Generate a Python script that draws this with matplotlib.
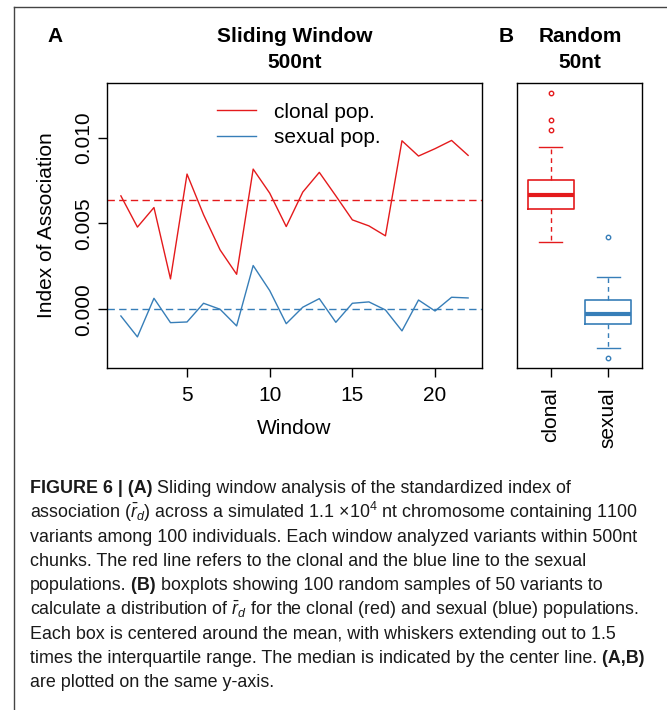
import matplotlib
matplotlib.use("Agg")
import matplotlib.pyplot as plt
from matplotlib.lines import Line2D

# ---------------- data ----------------
windows = list(range(1, 23))
clonal = [0.00661, 0.00479, 0.00593, 0.00177, 0.00788, 0.00551, 0.00346, 0.00204,
          0.00817, 0.00677, 0.00482, 0.00683, 0.00798, 0.00661, 0.00521, 0.00486,
          0.00428, 0.00982, 0.00893, 0.00936, 0.00984, 0.00897]
sexual = [-0.00039, -0.00161, 0.00064, -0.00078, -0.00074, 0.00035, 0.00000, -0.00097,
          0.00255, 0.00109, -0.00084, 0.00012, 0.00062, -0.00076, 0.00035, 0.00043,
          -0.00004, -0.00126, 0.00054, -0.00010, 0.00070, 0.00066]
clonal_ref = 0.00638
sexual_ref = 0.0

box_groups = ["clonal", "sexual"]
box_q1 = [0.00584, -0.00084]
box_med = [0.00668, -0.00027]
box_q3 = [0.00755, 0.00052]
box_whislo = [0.00392, -0.00227]
box_whishi = [0.00948, 0.00188]
box_fliers = [[0.01259, 0.01101, 0.01047], [0.00420, -0.00284]]

xticks_A = [5, 10, 15, 20]
yticks_A = [0.000, 0.005, 0.010]
ytick_labels_A = ["0.000", "0.005", "0.010"]
legend_labels = ["clonal pop.", "sexual pop."]

RED = "#E41A1C"
BLUE = "#377EB8"

# ---------------- style ----------------
plt.rcParams["font.family"] = ["Liberation Sans", "DejaVu Sans"]
plt.rcParams["mathtext.fontset"] = "custom"
plt.rcParams["mathtext.rm"] = "Liberation Sans"
plt.rcParams["mathtext.it"] = "Liberation Sans:italic"
plt.rcParams["mathtext.bf"] = "Liberation Sans:bold"

W, H = 667, 710
fig = plt.figure(figsize=(W / 100, H / 100), dpi=100)
fig.patch.set_facecolor("white")


def fx(p):
    return p / W


def fy(p):
    return 1 - p / H


AX_TOP, AX_BOT = 83.3, 368.3
YLIM = (-0.00344, 0.01317)
FS = 15

# ---------------- panel A ----------------
axA = fig.add_axes([fx(107), fy(AX_BOT), (482 - 107) / W, (AX_BOT - AX_TOP) / H])
lc, = axA.plot(windows, clonal, color=RED, lw=1.0, label=legend_labels[0])
ls, = axA.plot(windows, sexual, color=BLUE, lw=1.0, label=legend_labels[1])
axA.axhline(clonal_ref, color=RED, lw=1.0, linestyle=(0, (5.3, 3.1)))
axA.axhline(sexual_ref, color=BLUE, lw=1.0, linestyle=(0, (5.3, 3.1)))
axA.set_xlim(0.16, 22.84)
axA.set_ylim(*YLIM)
axA.set_xticks(xticks_A)
axA.set_yticks(yticks_A)
axA.set_yticklabels(ytick_labels_A, rotation=90, va="center")
axA.tick_params(axis="both", direction="out", length=6.5, width=1.0,
                labelsize=FS, color="black")
axA.tick_params(axis="x", pad=6)
axA.tick_params(axis="y", pad=3.8)
for sp in axA.spines.values():
    sp.set_linewidth(1.0)
axA.legend(handles=[lc, ls], labels=legend_labels, loc="upper left",
           bbox_to_anchor=(fx(216.7), fy(102.5)), bbox_transform=fig.transFigure,
           frameon=False, borderpad=0, borderaxespad=0, handlelength=1.87,
           handletextpad=0.9, labelspacing=0.33, fontsize=FS)

fig.text(fx(46.7), fy(225), "Index of Association", rotation=90,
         ha="center", va="center", fontsize=FS)
fig.text(fx(294.5), fy(428.5), "Window", ha="center", va="center", fontsize=FS)

# ---------------- panel B ----------------
axB = fig.add_axes([fx(517.3), fy(AX_BOT), (641.7 - 517.3) / W, (AX_BOT - AX_TOP) / H])
stats = []
for i, g in enumerate(box_groups):
    stats.append(dict(label=g, med=box_med[i], q1=box_q1[i], q3=box_q3[i],
                      whislo=box_whislo[i], whishi=box_whishi[i],
                      fliers=box_fliers[i]))
art = axB.bxp(stats, positions=[1, 2], widths=0.8, capwidths=0.4,
              showfliers=True, manage_ticks=False)
cols = [RED, BLUE]
for i, c in enumerate(cols):
    art["boxes"][i].set_color(c)
    art["boxes"][i].set_linewidth(1.2)
    art["medians"][i].set_color(c)
    art["medians"][i].set_linewidth(3.0)
    art["medians"][i].set_solid_capstyle("butt")
    for w in art["whiskers"][2 * i:2 * i + 2]:
        w.set_color(c)
        w.set_linewidth(1.0)
        w.set_linestyle((0, (3.4, 2.9)))
    for cp in art["caps"][2 * i:2 * i + 2]:
        cp.set_color(c)
        cp.set_linewidth(1.0)
    f = art["fliers"][i]
    f.set_marker("o")
    f.set_markersize(3.2)
    f.set_markerfacecolor("none")
    f.set_markeredgecolor(c)
    f.set_markeredgewidth(1.0)
axB.set_xlim(0.42, 2.58)
axB.set_ylim(*YLIM)
axB.set_yticks([])
axB.set_xticks([1, 2])
axB.set_xticklabels(box_groups, rotation=90, ha="center", va="top")
axB.tick_params(axis="x", direction="out", length=6.5, width=1.0,
                labelsize=FS, pad=7)
for sp in axB.spines.values():
    sp.set_linewidth(1.0)

# ---------------- titles / panel letters ----------------
fig.text(fx(55.2), fy(41.7), "A", ha="center", va="baseline", fontsize=FS, fontweight="bold")
fig.text(fx(294.5), fy(41.7), "Sliding Window", ha="center", va="baseline", fontsize=FS, fontweight="bold")
fig.text(fx(294.5), fy(68.3), "500nt", ha="center", va="baseline", fontsize=FS, fontweight="bold")
fig.text(fx(506), fy(41.7), "B", ha="center", va="baseline", fontsize=FS, fontweight="bold")
fig.text(fx(580), fy(41.7), "Random", ha="center", va="baseline", fontsize=FS, fontweight="bold")
fig.text(fx(579.5), fy(68.3), "50nt", ha="center", va="baseline", fontsize=FS, fontweight="bold")

# ---------------- frame lines ----------------
fig.add_artist(Line2D([fx(14.3), fx(14.3)], [fy(6.7), 0], color="#444444",
                      lw=1.0, transform=fig.transFigure))
fig.add_artist(Line2D([fx(14.3), 1], [fy(6.7), fy(6.7)], color="#444444",
                      lw=1.0, transform=fig.transFigure))

# ---------------- caption ----------------
caption = [
    [("FIGURE 6 | (A)", "bold"), (" Sliding window analysis of the standardized index of", "normal")],
    [("association ($\\bar{r}_d$) across a simulated 1.1 \u00d710$^4$ nt chromosome containing 1100", "normal")],
    [("variants among 100 individuals. Each window analyzed variants within 500nt", "normal")],
    [("chunks. The red line refers to the clonal and the blue line to the sexual", "normal")],
    [("populations.", "normal"), (" (B)", "bold"), (" boxplots showing 100 random samples of 50 variants to", "normal")],
    [("calculate a distribution of $\\bar{r}_d$ for the clonal (red) and sexual (blue) populations.", "normal")],
    [("Each box is centered around the mean, with whiskers extending out to 1.5", "normal")],
    [("times the interquartile range. The median is indicated by the center line.", "normal"), (" (A,B)", "bold")],
    [("are plotted on the same y-axis.", "normal")],
]
renderer = fig.canvas.get_renderer()
probe = fig.text(0, 0, caption[2][0][0], fontsize=12.7)
pw = probe.get_window_extent(renderer).width
probe.remove()
cap_fs = 12.7 * (606.7 / pw)

CAP_X0 = 30.0
CAP_Y0 = 493.3
CAP_DY = 24.25
for k, segs in enumerate(caption):
    x = CAP_X0
    y = CAP_Y0 + k * CAP_DY
    for s, wgt in segs:
        t = fig.text(fx(x), fy(y), s, ha="left", va="baseline", fontsize=cap_fs,
                     fontweight=wgt, color="#1a1a1a")
        x += t.get_window_extent(renderer).width

fig.savefig("out.png", dpi=100)
